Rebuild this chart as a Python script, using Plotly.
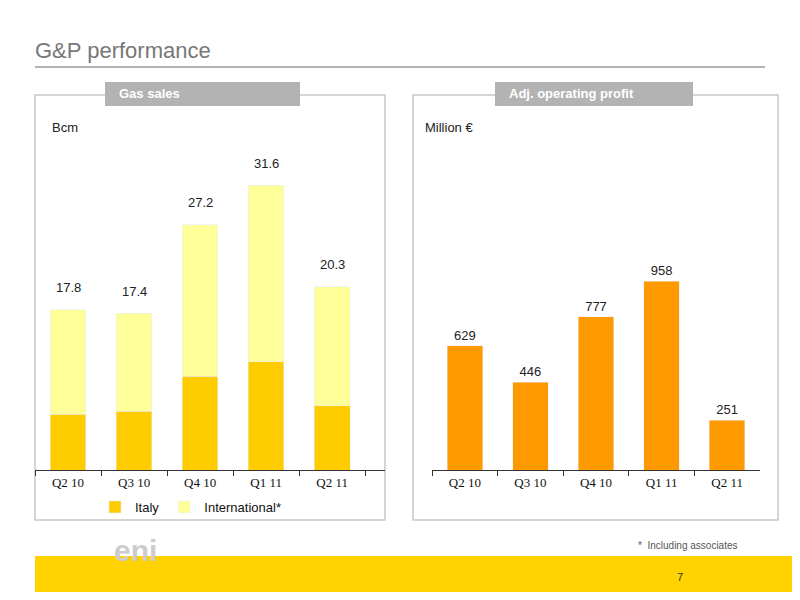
import plotly.graph_objects as go

quarters = ["Q2 10", "Q3 10", "Q4 10", "Q1 11", "Q2 11"]
italy = [6.2, 6.5, 10.4, 12.0, 7.1]
international = [11.6, 10.9, 16.8, 19.6, 13.2]
totals = [17.8, 17.4, 27.2, 31.6, 20.3]
profit = [629, 446, 777, 958, 251]

W, H = 800, 600
OFF = 8  # page body margin shifts the figure
def px(x): return (x - OFF) / W
def py(y): return 1 - (y - OFF) / H

def note(x, y, txt, size=13, color="#222", xanchor="left", family="Arial"):
    fig.add_annotation(xref="paper", yref="paper", x=px(x), y=py(y), xanchor=xanchor,
                       yanchor="middle", text=txt, showarrow=False,
                       font=dict(family=family, size=size, color=color))

fig = go.Figure()
fig.add_bar(x=quarters, y=italy, name="Italy", marker_color="#FFCC00", xaxis="x", yaxis="y")
fig.add_bar(x=quarters, y=international, name="International*", marker_color="#FFFF99",
            xaxis="x", yaxis="y")
fig.add_bar(x=quarters, y=profit, marker_color="#FF9900", showlegend=False,
            xaxis="x2", yaxis="y2", text=[str(v) for v in profit], textposition="outside",
            textfont=dict(family="Arial", size=13, color="#222"), cliponaxis=False)

for q, t in zip(quarters, totals):
    fig.add_annotation(x=q, y=t, xref="x", yref="y", text=f"{t:.1f}", showarrow=False,
                       yshift=22, font=dict(family="Arial", size=13, color="#222"))

def add_panel(x0, y0, x1, y1):
    fig.add_shape(type="rect", xref="paper", yref="paper",
                  x0=px(x0), x1=px(x1), y0=py(y1), y1=py(y0),
                  line=dict(color="#C8C8C8", width=1.5), fillcolor="rgba(0,0,0,0)", layer="below")
add_panel(35, 95, 385, 520)
add_panel(413, 95, 778, 520)

for x0, x1, txt in [(105, 300, "Gas sales"), (495, 693, "Adj. operating profit")]:
    fig.add_shape(type="rect", xref="paper", yref="paper", x0=px(x0), x1=px(x1),
                  y0=py(106), y1=py(82), fillcolor="#B3B3B3", line_width=0)
    note(x0 + 12, 94, f"<b>{txt}</b>", color="white")

fig.add_shape(type="line", xref="paper", yref="paper", x0=px(35), x1=px(765), y0=py(67), y1=py(67),
              line=dict(color="#999999", width=1.5))
fig.add_shape(type="rect", xref="paper", yref="paper", x0=px(35), x1=px(810), y0=py(592), y1=py(556),
              fillcolor="#FFD200", line_width=0)

note(33, 50, "G&P performance", size=22, color="#777777")
note(50, 128, "Bcm")
note(423, 128, "Million €")
note(740, 545, "*  Including associates", size=10, color="#555", xanchor="right")
note(680, 577, "7", size=11, color="#333", xanchor="center")
note(112, 550, "<b>eni</b>", size=30, color="#CCCCCC")

axis_common = dict(showgrid=False, zeroline=False, showline=True, linecolor="#333",
                   ticks="outside", tickson="boundaries", ticklen=5, tickcolor="#333",
                   tickfont=dict(family="Liberation Serif", size=13, color="#111"))
fig.update_layout(
    width=W, height=H, margin=dict(l=0, r=0, t=0, b=0),
    paper_bgcolor="white", plot_bgcolor="white", barmode="stack",
    bargap=0.46,
    xaxis=dict(domain=[px(35), px(385)], anchor="y", range=[-0.5, 4.8], **axis_common),
    yaxis=dict(domain=[py(470), py(140)], range=[0, 36.6], visible=False),
    xaxis2=dict(domain=[px(432), px(760)], anchor="y2", **axis_common),
    yaxis2=dict(domain=[py(470), py(140)], range=[0, 1673], visible=False),
    legend=dict(orientation="h", x=px(95), y=py(507), xanchor="left", yanchor="middle",
                font=dict(family="Arial", size=13, color="#111"), traceorder="normal",
                bgcolor="rgba(0,0,0,0)"),
)
fig.write_html("out.html")
